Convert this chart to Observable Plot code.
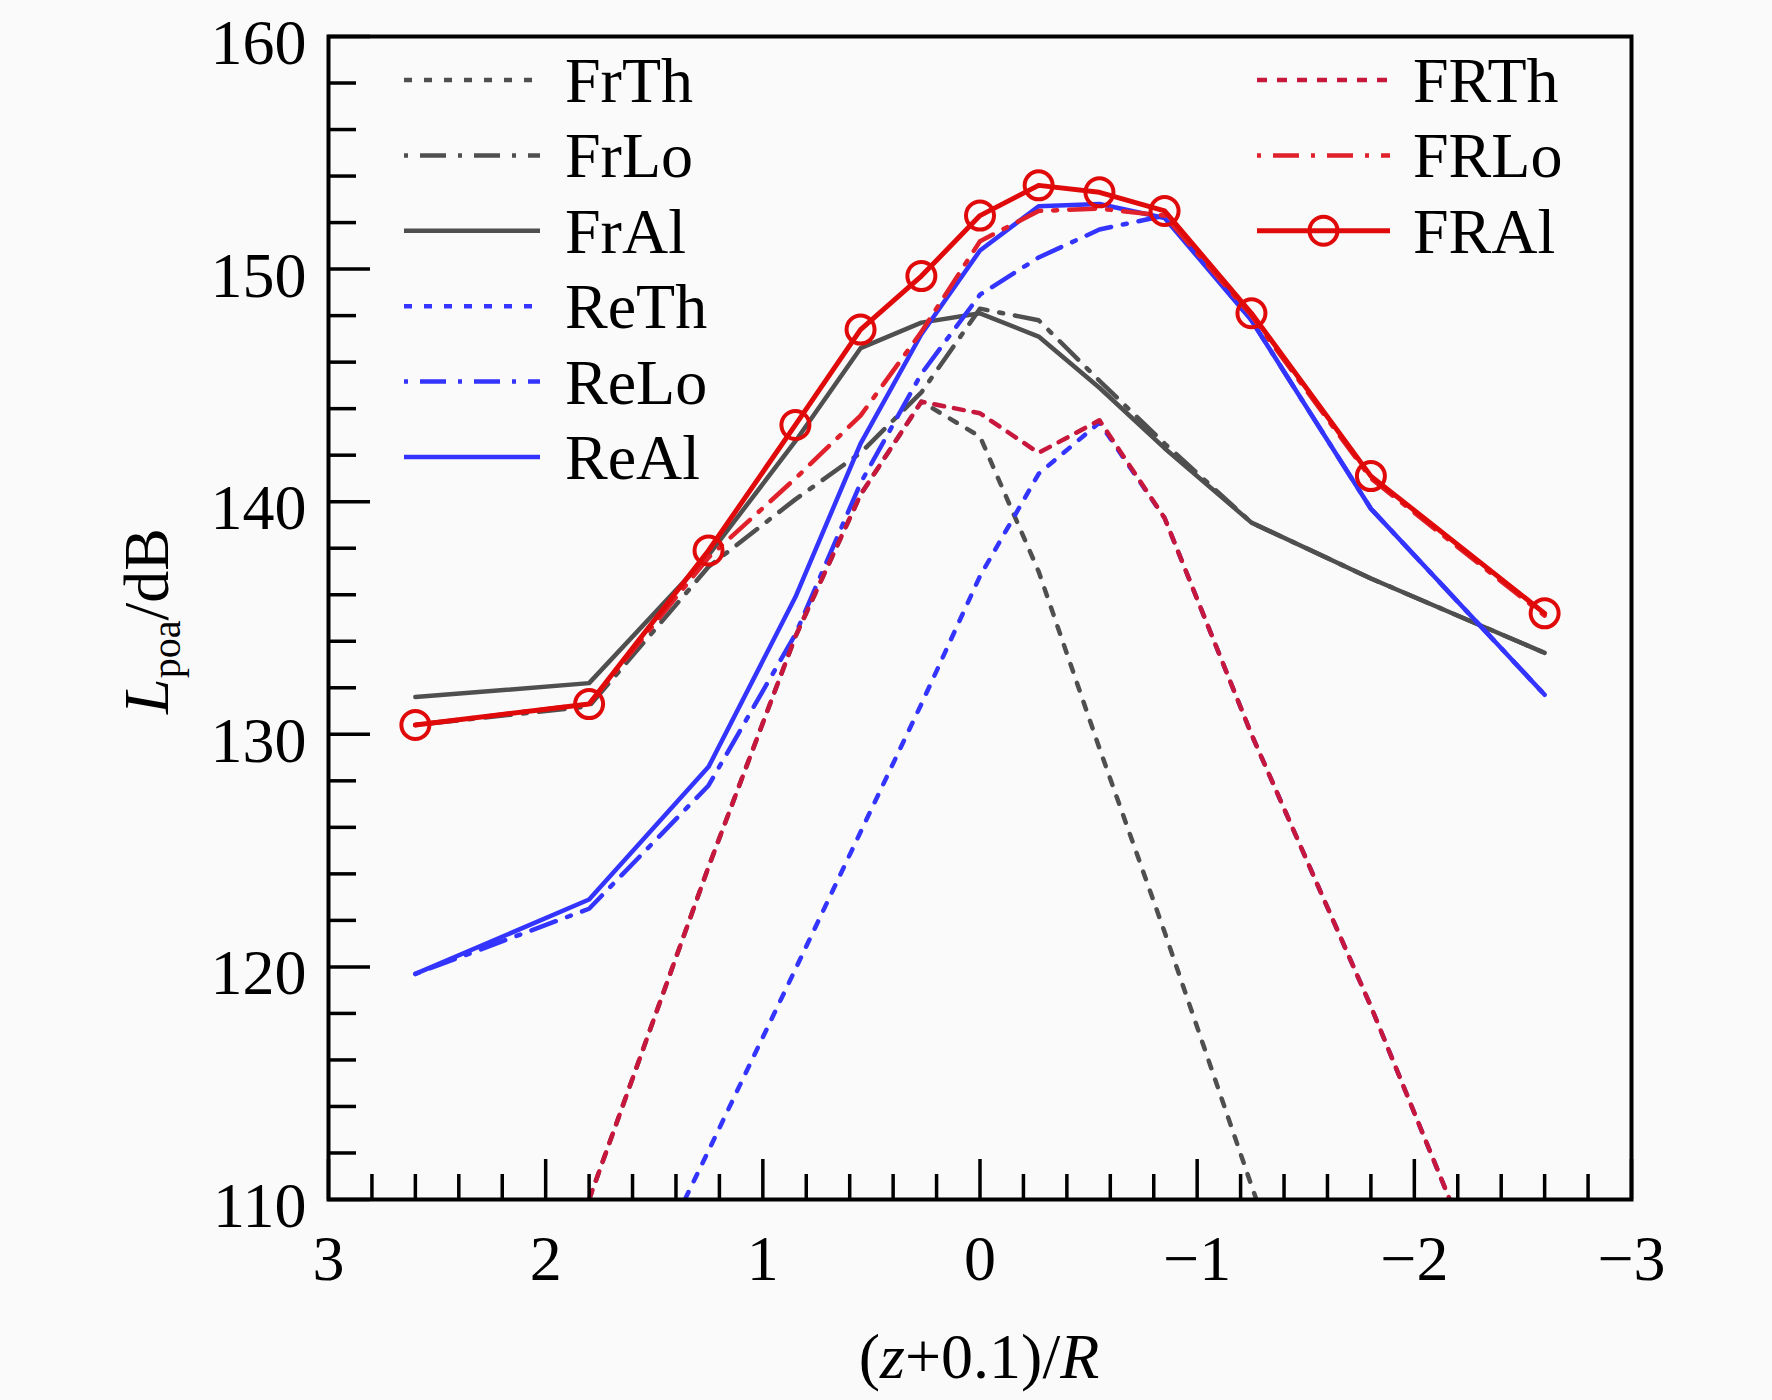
<!DOCTYPE html>
<html>
<head>
<meta charset="utf-8">
<script src="https://cdn.jsdelivr.net/npm/d3@7"></script>
<script src="https://cdn.jsdelivr.net/npm/@observablehq/plot@0.6"></script>
<style>
  html, body { margin: 0; padding: 0; background: #fafafa; }
  #chart { width: 1772px; height: 1400px; }
</style>
</head>
<body>
<div id="chart"></div>
<script>
// ---------------- data ----------------
const xPos = [2.6, 1.8, 1.25, 0.85, 0.55, 0.27, 0, -0.27, -0.55, -0.85, -1.25, -1.8, -2.6];

const FrTh = [null, 110.0, 124.3, 134.2, 140.3, 144.3, 142.8, 137.0, 129.4, 121.5, 110.6, 96.0, null];
const FrLo = [130.4, 131.2, 137.2, 140.1, 142.1, 144.7, 148.3, 147.8, 145.2, 142.5, 139.1, 136.7, 133.5];
const FrAl = [131.6, 132.2, 137.7, 142.6, 146.6, 147.7, 148.1, 147.1, 144.9, 142.3, 139.1, 136.7, 133.5];
const ReTh = [null, 101.5, 112.1, 119.9, 125.8, 131.3, 136.8, 141.2, 143.4, 139.3, 130.0, 118.3, 100.0];
const ReLo = [119.7, 122.5, 127.8, 134.3, 140.8, 145.5, 148.9, 150.5, 151.7, 152.3, 147.8, 139.7, 131.7];
const ReAl = [119.7, 122.9, 128.6, 135.9, 142.5, 147.2, 150.8, 152.7, 152.8, 152.2, 147.8, 139.7, 131.7];
const FRTh = [null, 110.0, 124.3, 134.2, 140.3, 144.3, 143.8, 142.1, 143.5, 139.3, 130.0, 118.3, 100.0];
const FRLo = [130.4, 131.3, 137.6, 141.0, 143.7, 147.3, 151.2, 152.5, 152.6, 152.3, 148.0, 141.0, 135.1];
const FRAl = [130.4, 131.3, 137.9, 143.3, 147.4, 149.7, 152.3, 153.6, 153.3, 152.5, 148.1, 141.1, 135.2];

const seriesNames = ["FrTh", "FrLo", "FrAl", "ReTh", "ReLo", "ReAl", "FRTh", "FRLo", "FRAl"];
const seriesValues = {FrTh, FrLo, FrAl, ReTh, ReLo, ReAl, FRTh, FRLo, FRAl};

const xTicksMajor = [3, 2, 1, 0, -1, -2, -3];
const xTicksMinor = d3.range(-30, 31, 2).map(v => v / 10).filter(v => !Number.isInteger(v));
const yTicksMajor = [110, 120, 130, 140, 150, 160];
const yTicksMinor = d3.range(110, 161, 2).filter(v => v % 10 !== 0);

const xLabelParts = [["(", false], ["z", true], ["+0.1)/", false], ["R", true]];
const yLabelParts = {main: "L", sub: "poa", rest: "/dB"};

// ---------------- styles ----------------
const GRAY = "#4f4f4f", BLUE = "#3434ff", CRIMSON = "#c8173c", RED2 = "#e0202a", RED = "#e00a0a";
const DOT = "8,12", DASHDOT = "4,12,26,12";
const styles = {
  FrTh: {stroke: GRAY, dash: DOT, w: 4.5},
  FrLo: {stroke: GRAY, dash: DASHDOT, w: 4.5},
  FrAl: {stroke: GRAY, dash: null, w: 4.5},
  ReTh: {stroke: BLUE, dash: DOT, w: 4.5},
  ReLo: {stroke: BLUE, dash: DASHDOT, w: 4.5},
  ReAl: {stroke: BLUE, dash: null, w: 4.5},
  FRTh: {stroke: CRIMSON, dash: "10,10", w: 4.5},
  FRLo: {stroke: RED2, dash: DASHDOT, w: 4.5},
  FRAl: {stroke: RED, dash: null, w: 5, marker: true}
};

const rows = [];
for (const s of seriesNames) {
  seriesValues[s].forEach((v, i) => { if (v != null) rows.push({s, x: xPos[i], y: v}); });
}

const SERIF = "'Liberation Serif', 'Times New Roman', serif";
const fmt = d3.format("d");

const lineMarks = seriesNames.map(s => Plot.line(rows.filter(r => r.s === s), {
  x: "x", y: "y",
  stroke: styles[s].stroke,
  strokeWidth: styles[s].w,
  strokeDasharray: styles[s].dash,
  clip: true
}));

const chart = Plot.plot({
  width: 1772,
  height: 1400,
  marginLeft: 328,
  marginRight: 141,
  marginTop: 36,
  marginBottom: 201,
  style: {background: "#fafafa", fontFamily: SERIF, fontSize: "64px", color: "black", overflow: "visible"},
  x: {domain: [3, -3], axis: null},
  y: {domain: [110, 160], axis: null},
  marks: [
    ...lineMarks,
    Plot.dot(rows.filter(r => r.s === "FRAl"), {x: "x", y: "y", r: 14, stroke: RED, strokeWidth: 4, fill: "none"}),
    Plot.axisX(xTicksMinor, {anchor: "bottom", tickSize: 25, dy: -25, fill: "none", strokeWidth: 3.5, label: null}),
    Plot.axisX(xTicksMajor, {anchor: "bottom", tickSize: 40, dy: -40, fill: "none", strokeWidth: 3.5, label: null}),
    Plot.axisX(xTicksMajor, {anchor: "bottom", tickSize: 0, tickPadding: 35, tickFormat: fmt, fontSize: 64, fontFamily: SERIF, label: null}),
    Plot.axisY(yTicksMinor, {anchor: "left", tickSize: 28, dx: 28, fill: "none", strokeWidth: 3.5, label: null}),
    Plot.axisY(yTicksMajor, {anchor: "left", tickSize: 42, dx: 42, fill: "none", strokeWidth: 3.5, label: null}),
    Plot.axisY(yTicksMajor, {anchor: "left", tickSize: 0, tickPadding: 22, dy: 7, tickFormat: fmt, fontSize: 64, fontFamily: SERIF, label: null}),
    Plot.frame({stroke: "black", strokeWidth: 4})
  ]
});
document.getElementById("chart").appendChild(chart);

// ---------------- legend & axis titles ----------------
const svg = d3.select(chart);
const g = svg.append("g").attr("font-family", SERIF).attr("font-size", 64).attr("fill", "black");

function legendEntry(name, x1, x2, tx, y) {
  const st = styles[name];
  g.append("line").attr("x1", x1).attr("x2", x2).attr("y1", y).attr("y2", y)
    .attr("stroke", st.stroke).attr("stroke-width", st.w)
    .attr("stroke-dasharray", st.dash);
  if (st.marker) {
    g.append("circle").attr("cx", (x1 + x2) / 2).attr("cy", y).attr("r", 14)
      .attr("fill", "none").attr("stroke", st.stroke).attr("stroke-width", 4);
  }
  g.append("text").attr("x", tx).attr("y", y + 22).attr("text-anchor", "start").text(name);
}
const leftCol = seriesNames.slice(0, 6);
const rightCol = seriesNames.slice(6);
leftCol.forEach((n, i) => legendEntry(n, 404, 540, 565, 80 + i * 75.4));
rightCol.forEach((n, i) => legendEntry(n, 1257, 1390, 1413, 80 + i * 75.4));

// x axis title
const xl = g.append("text").attr("x", 979).attr("y", 1378).attr("text-anchor", "middle");
xLabelParts.forEach(([t, it]) => xl.append("tspan").attr("font-style", it ? "italic" : "normal").text(t));

// y axis title
const yl = g.append("text").attr("transform", "translate(168,621) rotate(-90)").attr("text-anchor", "middle");
yl.append("tspan").attr("font-style", "italic").text(yLabelParts.main);
yl.append("tspan").attr("font-size", 40).attr("dy", 12).text(yLabelParts.sub);
yl.append("tspan").attr("dy", -12).text(yLabelParts.rest);
</script>
</body>
</html>
